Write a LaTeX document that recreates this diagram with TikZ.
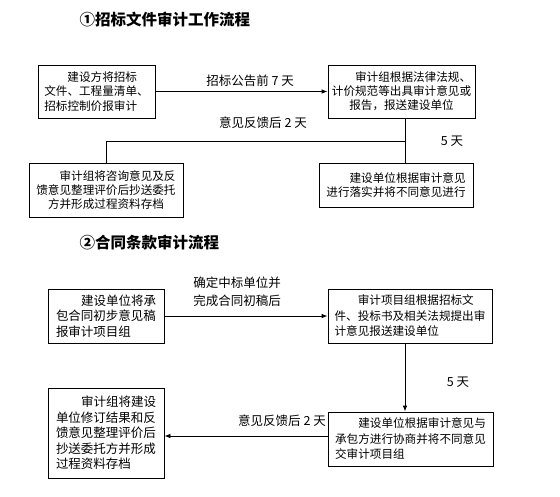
\documentclass[tikz,border=0pt]{standalone}
\usepackage{fontspec}
\setmainfont{Noto Sans CJK SC}
\usetikzlibrary{arrows.meta, positioning}
\tikzset{>={Latex[length=6pt,width=4.5pt]}}
\tikzset{
  flowbox/.style={draw, line width=0.8pt, inner sep=0pt, align=left},
  small/.style={font=\fontsize{11.6}{14.2}\selectfont},
  big/.style={font=\fontsize{11.6}{15.5}\selectfont},
  wide/.style={font=\fontsize{12.5}{15.5}\selectfont},
  heading/.style={font=\fontsize{15.5}{18}\selectfont\bfseries, anchor=west},
  tag/.style={font=\fontsize{12.5}{18}\selectfont, align=center}
}

\begin{document}
\begin{tikzpicture}[x=1pt,y=-1pt]
\useasboundingbox (0,0) rectangle (560,496);
% first flow
\node[heading] (t1) at (76,20) {①招标文件审计工作流程};
\node[flowbox, small, minimum width=117, minimum height=53] (a1) at (96.5,91.5) {\hspace*{2em}建设方将招标\\文件、工程量清单、\\招标控制价报审计};
\node[flowbox, small, minimum width=147, minimum height=53] (b1) at (401.5,91.5) {\hspace*{2em}审计组根据法律法规、\\计价规范等出具审计意见或\\\hspace*{1.5em}报告，报送建设单位};
\node[flowbox, small, minimum width=154, minimum height=54] (c1) at (106,190) {\hspace*{2em}审计组将咨询意见及反\\馈意见整理评价后抄送委托\\\hspace*{1em}方并形成过程资料存档};
\node[flowbox, small, minimum width=154, minimum height=44] (d1) at (396,185) {\hspace*{2em}建设单位根据审计意见\\进行落实并将不同意见进行};
\coordinate (j1) at (405,141);
\draw[->, line width=0.8pt] (a1) -- (b1) node[tag, pos=0.55, above=1pt] (l1) {招标公告前 7 天};
\draw[line width=0.8pt] (b1.south -| j1) -- (j1) -- (c1.north |- j1) -- (c1.north);
\draw[line width=0.8pt] (j1) -- (d1.north -| j1);
\node[tag] (l2) at (263,123) {意见反馈后 2 天};
\node[tag] (l3) at (452,141) {5 天};
% second flow
\node[heading] (t2) at (76,243) {②合同条款审计流程};
\node[flowbox, wide, minimum width=116, minimum height=54] (a2) at (106,316) {\hspace*{2em}建设单位将承\\包合同初步意见稿\\报审计项目组};
\node[flowbox, big, minimum width=164, minimum height=54] (b2) at (410,316) {\hspace*{2em}审计项目组根据招标文\\件、投标书及相关法规提出审\\计意见报送建设单位};
\node[flowbox, big, minimum width=165, minimum height=54] (d2) at (410.5,439) {\hspace*{2em}建设单位根据审计意见与\\承包方进行协商并将不同意见\\交审计项目组};
\node[flowbox, wide, minimum width=116, minimum height=90] (c2) at (106,433) {\hspace*{2em}审计组将建设\\单位修订结果和反\\馈意见整理评价后\\抄送委托方并形成\\过程资料存档};
\coordinate (j2) at (405,343);
\draw[->, line width=0.8pt] (a2) -- (b2);
\node[tag] (l4) at (237,292) {确定中标单位并\\完成合同初稿后};
\draw[->, line width=0.8pt] (j2) -- (d2.north -| j2);
\node[tag] (l5) at (458,382) {5 天};
\draw[->, line width=0.8pt] (d2.west |- 0,436) -- (c2.east |- 0,436);
\node[tag] (l6) at (282,421) {意见反馈后 2 天};
\end{tikzpicture}
\end{document}
